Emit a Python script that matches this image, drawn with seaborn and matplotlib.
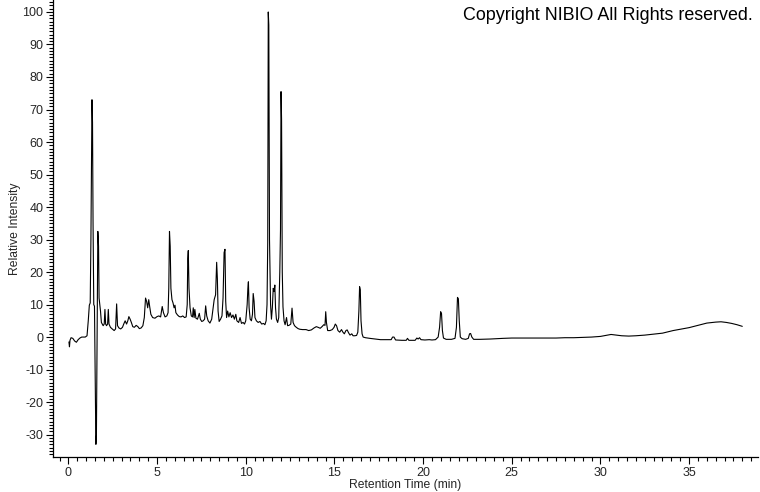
import pandas as pd
import seaborn as sns
import matplotlib.pyplot as plt
from matplotlib.ticker import MultipleLocator

# retention time (min) and relative intensity
rt = [0.03, 0.06, 0.09, 0.15, 0.25, 0.35, 0.45, 0.55, 0.65, 0.75, 0.95, 1.05,
      1.12, 1.18, 1.23, 1.27, 1.30, 1.33, 1.36, 1.39, 1.43, 1.47, 1.51, 1.55,
      1.58, 1.62, 1.66, 1.70, 1.73, 1.77, 1.81, 1.86, 1.91, 1.96, 2.02, 2.06,
      2.10, 2.15, 2.21, 2.25, 2.29, 2.37, 2.47, 2.58, 2.66, 2.72, 2.77, 2.85,
      2.95, 3.05, 3.12, 3.20, 3.28, 3.35, 3.41, 3.48, 3.55, 3.63, 3.72, 3.82,
      3.92, 4.00, 4.10, 4.20, 4.28, 4.35, 4.41, 4.47, 4.53, 4.58, 4.65, 4.75,
      4.88, 5.00, 5.10, 5.20, 5.29, 5.36, 5.45, 5.55, 5.62, 5.66, 5.70, 5.74,
      5.78, 5.84, 5.90, 5.96, 6.01, 6.06, 6.15, 6.25, 6.35, 6.45, 6.55, 6.64,
      6.70, 6.73, 6.76, 6.80, 6.86, 6.93, 7.00, 7.04, 7.09, 7.13, 7.19, 7.28,
      7.38, 7.44, 7.52, 7.60, 7.68, 7.74, 7.80, 7.88, 7.98, 8.08, 8.16, 8.22,
      8.30, 8.36, 8.40, 8.44, 8.50, 8.58, 8.66, 8.72, 8.78, 8.83, 8.87, 8.92,
      8.98, 9.05, 9.12, 9.20, 9.28, 9.36, 9.44, 9.50, 9.60, 9.68, 9.76, 9.85,
      9.93, 10.00, 10.08, 10.12, 10.15, 10.19, 10.25, 10.32, 10.38, 10.42,
      10.47, 10.52, 10.60, 10.70, 10.80, 10.90, 11.00, 11.08, 11.15, 11.20,
      11.24, 11.27, 11.30, 11.34, 11.40, 11.45, 11.50, 11.55, 11.60, 11.64,
      11.68, 11.73, 11.80, 11.86, 11.92, 11.96, 11.99, 12.02, 12.06, 12.10,
      12.16, 12.22, 12.30, 12.36, 12.44, 12.54, 12.61, 12.67, 12.75, 12.85,
      12.95, 13.05, 13.20, 13.40, 13.55, 13.70, 13.85, 13.98, 14.08, 14.20,
      14.30, 14.40, 14.47, 14.51, 14.55, 14.62, 14.75, 14.88, 14.98, 15.05,
      15.12, 15.20, 15.30, 15.40, 15.48, 15.56, 15.65, 15.72, 15.80, 15.88,
      15.98, 16.05, 16.15, 16.25, 16.32, 16.38, 16.42, 16.46, 16.50, 16.56,
      16.62, 16.75, 17.00, 17.30, 17.60, 17.90, 18.20, 18.28, 18.36, 18.45,
      18.80, 19.05, 19.12, 19.20, 19.55, 19.65, 19.72, 19.80, 19.88, 20.10,
      20.35, 20.50, 20.70, 20.85, 20.93, 20.99, 21.04, 21.09, 21.15, 21.30,
      21.60, 21.80, 21.88, 21.94, 21.99, 22.04, 22.10, 22.20, 22.40, 22.55,
      22.62, 22.68, 22.75, 22.85, 23.20, 23.80, 24.50, 25.00, 25.50, 26.00,
      26.50, 27.00, 27.50, 28.00, 28.50, 29.00, 29.50, 30.00, 30.30, 30.60,
      30.90, 31.20, 31.60, 32.00, 32.50, 33.00, 33.50, 34.10, 34.60, 35.00,
      35.50, 36.00, 36.50, 36.80, 37.10, 37.40, 37.70, 38.00]
intensity = [-1.5, -3.0, -1.0, -0.2, -0.4, -1.2, -1.6, -0.8, -0.3, 0.0, 0.0, 0.4,
             5.0, 9.8, 10.5, 30.0, 54.0, 73.0, 66.0, 35.0, 10.0, 9.5, -13.0, -33.0,
             -30.0, 0.0, 32.5, 28.0, 12.0, 10.0, 8.0, 4.5, 4.0, 3.5, 4.0, 8.5,
             4.0, 3.5, 4.0, 8.5, 4.0, 3.0, 2.5, 2.0, 2.5, 10.2, 3.5, 2.8,
             2.5, 3.0, 4.0, 5.0, 4.0, 5.0, 6.3, 5.5, 4.5, 3.2, 3.0, 3.6,
             3.2, 2.6, 2.8, 3.5, 6.0, 12.0, 11.0, 9.0, 11.5, 9.5, 7.0, 6.0,
             5.8, 6.3, 6.5, 6.2, 9.4, 7.5, 6.2, 6.5, 7.5, 15.0, 32.5, 28.0,
             15.0, 11.5, 10.5, 9.0, 9.8, 7.5, 6.8, 6.3, 6.2, 6.5, 6.0, 6.2,
             10.0, 24.0, 26.6, 15.0, 9.0, 6.5, 6.2, 9.0, 6.0, 8.5, 5.8, 5.5,
             7.3, 5.5, 4.8, 5.0, 5.5, 9.6, 6.5, 5.0, 4.3, 5.5, 9.0, 11.5,
             13.0, 23.0, 18.0, 8.0, 4.8, 5.5, 6.5, 12.0, 26.0, 27.0, 11.0, 6.0,
             8.0, 6.2, 7.5, 6.0, 6.8, 5.5, 7.0, 5.0, 4.5, 6.0, 4.2, 4.5,
             4.0, 5.0, 10.0, 15.0, 17.0, 9.0, 5.5, 5.0, 7.0, 13.4,
             11.0, 6.0, 5.0, 4.5, 4.8, 4.0, 4.2, 3.8, 5.0, 10.0,
             29.0, 100.0, 96.0, 30.0, 10.0, 5.5, 9.0, 15.0, 14.0, 16.0,
             9.0, 5.5, 4.5, 6.0, 20.0, 33.0, 75.5, 67.0, 20.0, 9.3,
             5.0, 3.8, 6.0, 3.5, 3.6, 4.0, 8.9, 4.5, 3.5, 3.0,
             2.6, 2.4, 2.3, 2.3, 2.0, 2.2, 2.8, 3.2, 3.0, 2.7,
             3.2, 3.8, 3.6, 7.8, 4.5, 2.0, 2.0, 2.3, 3.0, 4.0,
             3.5, 2.0, 1.5, 2.3, 1.5, 1.0, 2.0, 2.2, 1.3, 0.6,
             1.0, 0.4, 0.4, 0.5, 1.5, 8.0, 15.5, 14.5, 5.0, 1.0,
             0.0, -0.2, -0.4, -0.6, -0.8, -0.8, -0.8, 0.0, 0.0, -0.9,
             -1.0, -1.0, -0.4, -1.0, -1.0, -0.3, -0.6, -0.2, -0.8, -0.9,
             -0.8, -0.9, -0.8, 0.0, 3.0, 7.8, 7.2, 2.0, -0.3, -0.7,
             -0.7, -0.4, 3.0, 12.2, 11.8, 5.0, 0.0, -0.5, -0.7, -0.4,
             1.0, 1.1, 0.0, -0.7, -0.7, -0.6, -0.4, -0.3, -0.3, -0.3,
             -0.3, -0.3, -0.3, -0.2, -0.2, -0.1, 0.0, 0.2, 0.5, 0.8,
             0.6, 0.4, 0.3, 0.4, 0.6, 0.9, 1.2, 2.0, 2.5, 2.9,
             3.6, 4.3, 4.6, 4.7, 4.5, 4.2, 3.8, 3.3]

df = pd.DataFrame({"Retention Time (min)": rt, "Relative Intensity": intensity})

sns.set_style("ticks")
plt.rcParams["font.family"] = ["Liberation Sans", "DejaVu Sans"]
plt.rcParams["axes.unicode_minus"] = False

fig = plt.figure(figsize=(7.6, 4.92), dpi=100)
ax = fig.add_axes([0.0697, 0.0711, 0.928, 0.929])

sns.lineplot(data=df, x="Retention Time (min)", y="Relative Intensity",
             estimator=None, sort=False, color="black", linewidth=0.8, ax=ax)

ax.set_xlim(-0.87, 38.9)
ax.set_ylim(-36.9, 103.7)
ax.xaxis.set_major_locator(MultipleLocator(5))
ax.xaxis.set_minor_locator(MultipleLocator(0.5))
ax.yaxis.set_major_locator(MultipleLocator(10))
ax.yaxis.set_minor_locator(MultipleLocator(1))
ax.tick_params(which="major", length=5, width=0.8, labelsize=9, color="black", pad=2)
ax.tick_params(which="minor", length=3, width=0.8, color="black")
sns.despine(ax=ax)
for s in ["left", "bottom"]:
    ax.spines[s].set_color("black")
    ax.spines[s].set_linewidth(0.9)

ax.set_xlabel("Retention Time (min)", fontsize=8.7, labelpad=0)
ax.set_ylabel("Relative Intensity", fontsize=8.7, labelpad=1)

fig.text(0.99, 0.985, "Copyright NIBIO All Rights reserved.", ha="right", va="top",
         fontsize=12.9, color="black")

plt.savefig("out.png", dpi=100)
